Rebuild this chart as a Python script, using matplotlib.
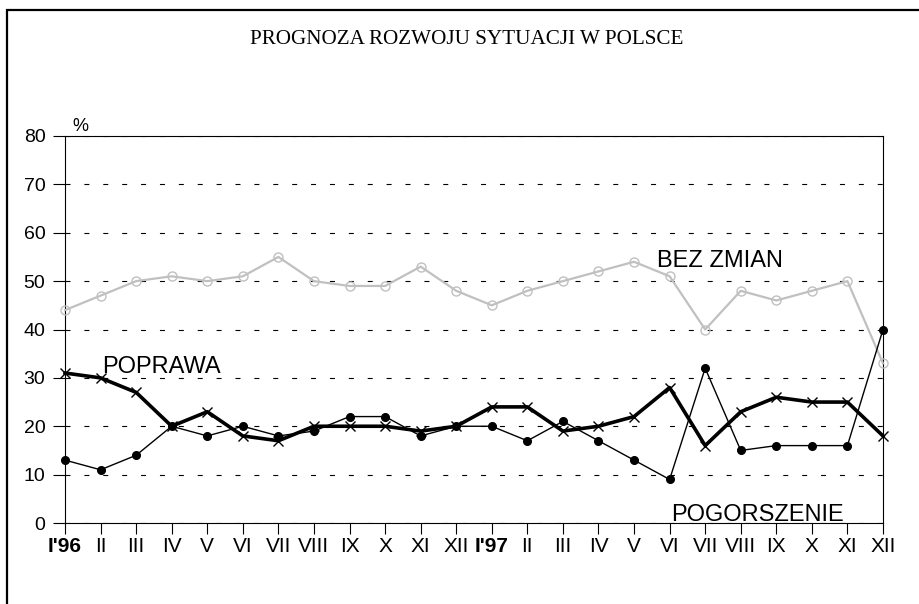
import numpy as np
import matplotlib.pyplot as plt
from matplotlib.patches import Rectangle

## dane z wykresu (w %)
miesiace = ["I'96", "II", "III", "IV", "V", "VI", "VII", "VIII", "IX", "X", "XI", "XII",
            "I'97", "II", "III", "IV", "V", "VI", "VII", "VIII", "IX", "X", "XI", "XII"]
bez_zmian = [44, 47, 50, 51, 50, 51, 55, 50, 49, 49, 53, 48,
             45, 48, 50, 52, 54, 51, 40, 48, 46, 48, 50, 33]
poprawa = [31, 30, 27, 20, 23, 18, 17, 20, 20, 20, 19, 20,
           24, 24, 19, 20, 22, 28, 16, 23, 26, 25, 25, 18]
pogorszenie = [13, 11, 14, 20, 18, 20, 18, 19, 22, 22, 18, 20,
               20, 17, 21, 17, 13, 9, 32, 15, 16, 16, 16, 40]
y_ticks = [0, 10, 20, 30, 40, 50, 60, 70, 80]

plt.rcParams['font.family'] = ['Liberation Sans', 'DejaVu Sans']

W, H = 919, 604
fig = plt.figure(figsize=(W / 100, H / 100), dpi=100)
ax = fig.add_axes([65 / W, 1 - 523 / H, (883 - 65) / W, (523 - 136) / H])

x = np.arange(len(miesiace))

## linie
ax.plot(x, bez_zmian, color="#c0c0c0", lw=1.6, marker="o", ms=6.5,
        mfc="none", mec="#c0c0c0", mew=1, clip_on=False, zorder=3)
ax.plot(x, pogorszenie, color="black", lw=1, marker="o", ms=5.5,
        mfc="black", mec="black", clip_on=False, zorder=4)
ax.plot(x, poprawa, color="black", lw=2.6, marker="x", ms=7,
        mew=1, clip_on=False, zorder=5)

## opisy serii
ax.text(1.05, 31, "POPRAWA", fontsize=17, ha="left", va="baseline")
ax.text(16.65, 52.9, "BEZ ZMIAN", fontsize=17, ha="left", va="baseline")
ax.text(17.05, 0.4, "POGORSZENIE", fontsize=17, ha="left", va="baseline")
ax.text(0.42, 81, "%", fontsize=13, ha="center", va="baseline")

## osie
ax.set_xlim(0, len(miesiace) - 1)
ax.set_ylim(0, 80)
ax.set_yticks(y_ticks)
ax.set_xticks(x)
ax.set_xticklabels(miesiace)
for lab in ax.get_xticklabels():
    if lab.get_text().startswith("I'"):
        lab.set_fontweight("bold")
ax.tick_params(axis="x", direction="out", length=8, width=0.8, pad=2, labelsize=15)
ax.tick_params(axis="y", direction="out", length=8.6, width=0.8, pad=5.5, labelsize=14)
for s in ax.spines.values():
    s.set_linewidth(0.8)
ax.grid(axis="y", color="black", lw=0.8, linestyle=(0, (4.5, 12.5)))
ax.set_axisbelow(True)

## tytul
fig.text(467 / W, 1 - 40 / H, "PROGNOZA ROZWOJU SYTUACJI W POLSCE",
         family="Liberation Serif", fontsize=15.2, ha="center", va="center")

## ramka
fig.patches.append(Rectangle((7 / W, -0.1), 1.2, 1.1 - 10 / H,
                             transform=fig.transFigure, fill=False,
                             lw=1.6, ec="black"))

fig.savefig("out.png", dpi=100)
